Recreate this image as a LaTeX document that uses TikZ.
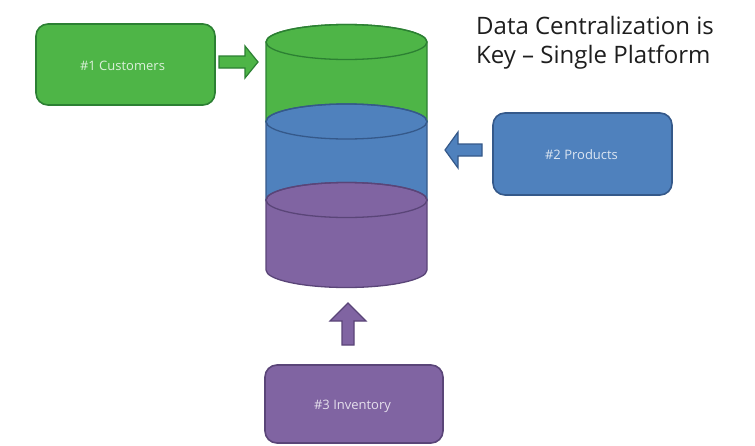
\documentclass[tikz,border=0pt]{standalone}
\usepackage{fontspec}
\setmainfont{Open Sans}
\definecolor{grnfill}{HTML}{4EB547}
\definecolor{grnline}{HTML}{2C8033}
\definecolor{blufill}{HTML}{4F81BD}
\definecolor{bluline}{HTML}{35598A}
\definecolor{purfill}{HTML}{8064A2}
\definecolor{purline}{HTML}{5A4578}
\definecolor{titlegray}{HTML}{1E1E1E}
\tikzset{
  srcbox/.style={rounded corners=12pt, line width=1.6pt},
  boxlabel/.style={font=\fontsize{13}{15}\selectfont, text=white, text opacity=0.8, inner sep=0pt},
  blockarrow/.style={line width=1.2pt, line join=miter},
  layer/.style={line width=1.3pt}
}
\begin{document}
\begin{tikzpicture}[x=1pt,y=-1pt]
\useasboundingbox (0,0) rectangle (755,445);
\fill[white] (0,0) rectangle (755,445);

% source boxes
\draw[srcbox, grnline, fill=grnfill] (36,24) rectangle (215,105);
\node[boxlabel] (cust) at (122.5,66) {\#1 Customers};
\draw[srcbox, bluline, fill=blufill] (493,113) rectangle (672,195);
\node[boxlabel] (prod) at (581.5,155) {\#2 Products};
\draw[srcbox, purline, fill=purfill] (265,365) rectangle (443,443);
\node[boxlabel] (inv) at (352.5,406) {\#3 Inventory};

% stacked cylinder: each layer = top ellipse + body + lower rim
\def\cx{346.5}
\def\rx{80.5}
\def\ry{17.5}
% green layer
\draw[layer, grnline, fill=grnfill] (\cx-\rx,42) -- (\cx-\rx,121.5) arc[start angle=180, end angle=360, x radius=\rx, y radius=-\ry] -- (\cx+\rx,42) arc[start angle=0, end angle=180, x radius=\rx, y radius=-\ry] -- cycle;
\draw[layer, grnline] (\cx,42) ellipse[x radius=\rx, y radius=\ry];
% blue layer
\draw[layer, bluline, fill=blufill] (\cx-\rx,121.5) -- (\cx-\rx,200) arc[start angle=180, end angle=360, x radius=\rx, y radius=-\ry] -- (\cx+\rx,121.5) arc[start angle=0, end angle=180, x radius=\rx, y radius=-\ry] -- cycle;
\draw[layer, bluline] (\cx,121.5) ellipse[x radius=\rx, y radius=\ry];
% purple layer
\draw[layer, purline, fill=purfill] (\cx-\rx,200) -- (\cx-\rx,270) arc[start angle=180, end angle=360, x radius=\rx, y radius=-\ry] -- (\cx+\rx,200) arc[start angle=0, end angle=180, x radius=\rx, y radius=-\ry] -- cycle;
\draw[layer, purline] (\cx,200) ellipse[x radius=\rx, y radius=\ry];

% block arrows into the cylinder
\draw[blockarrow, grnline, fill=grnfill] (219,56) -- (245,56) -- (245,46) -- (258,62) -- (245,78) -- (245,68) -- (219,68) -- cycle;
\draw[blockarrow, bluline, fill=blufill] (482,144) -- (458,144) -- (458,132) -- (445,150) -- (458,168) -- (458,156) -- (482,156) -- cycle;
\draw[blockarrow, purline, fill=purfill] (342,345) -- (342,321) -- (330,321) -- (348,303) -- (366,321) -- (354,321) -- (354,345) -- cycle;

% title, two lines
\node[anchor=base west, text=titlegray, font=\fontsize{24}{29}\selectfont, inner sep=0pt] (title1) at (476,34) {Data Centralization is};
\node[anchor=base west, text=titlegray, font=\fontsize{24}{29}\selectfont, inner sep=0pt] (title2) at (476,63) {Key -- Single Platform};
\end{tikzpicture}
\end{document}
